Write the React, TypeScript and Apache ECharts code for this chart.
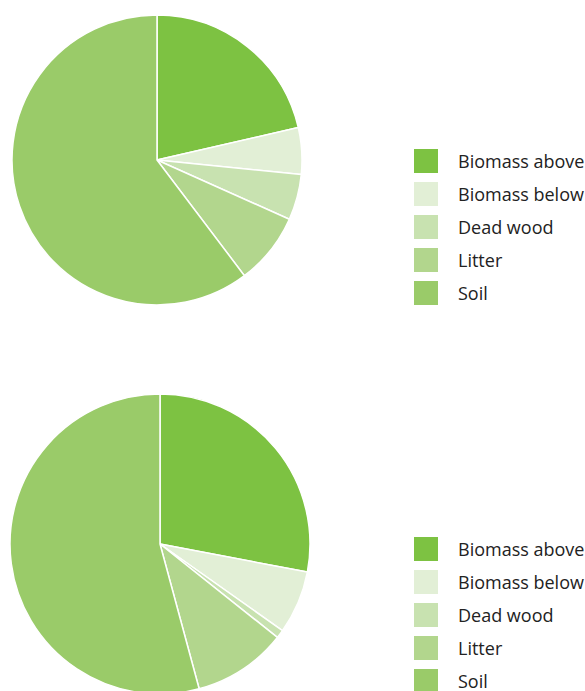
import React, { useEffect, useRef } from "react";
import * as echarts from "echarts";

const categories = ["Biomass above", "Biomass below", "Dead wood", "Litter", "Soil"];
const colors = ["#7dc242", "#e2efd6", "#c8e2b0", "#b2d68d", "#9acb69"];
const valuesTop = [21.4, 5.2, 5.1, 8.0, 60.3];
const valuesBottom = [28.0, 6.8, 0.9, 10.1, 54.2];

export default function App() {
  const ref = useRef<HTMLDivElement>(null);
  useEffect(() => {
    if (!ref.current) return;
    const chart = echarts.init(ref.current, null, { renderer: "svg" });
    const mkData = (vals: number[]) =>
      categories.map((name, i) => ({ name, value: vals[i], itemStyle: { color: colors[i] } }));
    const legendBase = {
      orient: "vertical" as const,
      left: 414,
      padding: 0,
      height: 220,
      itemWidth: 24,
      itemHeight: 24,
      itemGap: 9,
      icon: "rect",
      itemStyle: { borderWidth: 0 },
      textStyle: { fontSize: 18, color: "#222", fontFamily: "Open Sans", padding: [0, 0, 0, 15] },
      data: categories,
      selectedMode: false,
    };
    chart.setOption({
      animation: false,
      legend: [
        { ...legendBase, top: 149 },
        { ...legendBase, top: 537 },
      ],
      series: [
        {
          type: "pie",
          center: [157, 160],
          radius: [0, 145],
          startAngle: 90,
          clockwise: true,
          label: { show: false },
          labelLine: { show: false },
          silent: true,
          itemStyle: { borderColor: "#fff", borderWidth: 1.5 },
          data: mkData(valuesTop),
        },
        {
          type: "pie",
          center: [160, 544],
          radius: [0, 150],
          startAngle: 90,
          clockwise: true,
          label: { show: false },
          labelLine: { show: false },
          silent: true,
          itemStyle: { borderColor: "#fff", borderWidth: 1.5 },
          data: mkData(valuesBottom),
        },
      ],
    });
    return () => chart.dispose();
  }, []);
  return (
    <div
      ref={ref}
      style={{ position: "absolute", left: 0, top: 0, width: 585, height: 691, background: "#fff" }}
    />
  );
}
